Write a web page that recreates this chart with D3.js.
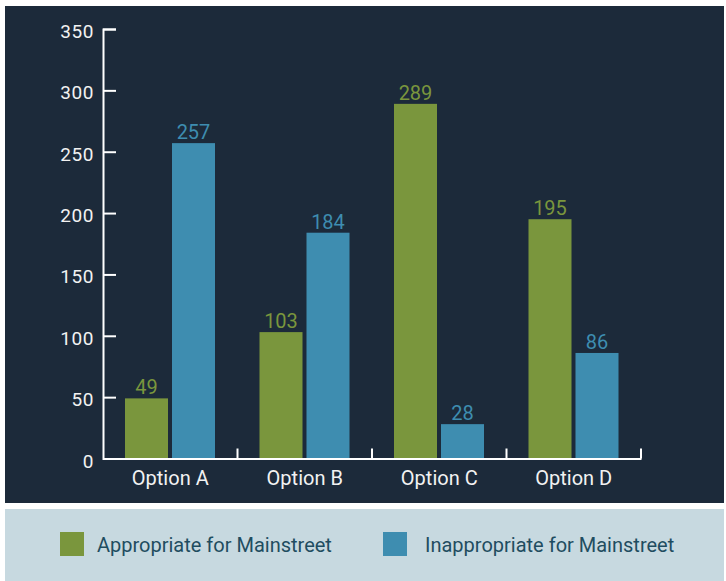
<!DOCTYPE html>
<html>
<head>
<meta charset="utf-8">
<script src="https://cdn.jsdelivr.net/npm/d3@7"></script>
<style>
  html, body { margin: 0; padding: 0; background: #ffffff; }
  svg { display: block; }
  text { font-family: Roboto, "Noto Sans", sans-serif; }
</style>
</head>
<body>
<svg id="chart" width="726" height="581"></svg>
<script>
const categories = ["Option A", "Option B", "Option C", "Option D"];
const seriesNames = ["Appropriate for Mainstreet", "Inappropriate for Mainstreet"];
const appropriate = [49, 103, 289, 195];
const inappropriate = [257, 184, 28, 86];
const yTicks = [0, 50, 100, 150, 200, 250, 300, 350];
const colors = ["#7a963d", "#3e8db0"];

const svg = d3.select("#chart");

// panels
svg.append("rect").attr("x", 5).attr("y", 6).attr("width", 719).attr("height", 497).attr("fill", "#1c2a3a");
svg.append("rect").attr("x", 5).attr("y", 509).attr("width", 719).attr("height", 72).attr("fill", "#c7d9e0");

const y = d3.scaleLinear().domain([0, 350]).range([458.5, 29]);
const x = d3.scaleBand().domain(categories).range([103, 641]).padding(0);
const xInner = d3.scaleBand().domain(seriesNames).range([22, 112]).paddingInner(4 / 47);

const data = categories.map((c, i) => ({ cat: c, values: [appropriate[i], inappropriate[i]] }));

// bars
const groups = svg.append("g").selectAll("g").data(data).join("g")
  .attr("transform", d => `translate(${x(d.cat)},0)`);

groups.selectAll("rect").data(d => d.values.map((v, k) => ({ v, k }))).join("rect")
  .attr("x", d => xInner(seriesNames[d.k]))
  .attr("width", xInner.bandwidth())
  .attr("y", d => y(d.v))
  .attr("height", d => y(0) - y(d.v))
  .attr("fill", d => colors[d.k]);

groups.selectAll("text.val").data(d => d.values.map((v, k) => ({ v, k }))).join("text")
  .attr("class", "val")
  .attr("x", d => xInner(seriesNames[d.k]) + xInner.bandwidth() / 2)
  .attr("y", d => y(d.v) - 4)
  .attr("text-anchor", "middle")
  .attr("font-size", 20)
  .attr("fill", d => colors[d.k])
  .text(d => d.v);

// y axis
const yAxis = svg.append("g").attr("transform", "translate(103,0)")
  .call(d3.axisLeft(y).tickValues(yTicks).tickSize(-13).tickPadding(9));
yAxis.select(".domain").attr("stroke", "#ffffff").attr("stroke-width", 2);
yAxis.selectAll(".tick line").attr("stroke", "#ffffff").attr("stroke-width", 2);
yAxis.selectAll(".tick text")
  .attr("fill", "#f2f2f2")
  .attr("font-size", 19)
  .attr("font-family", "Roboto, sans-serif")
  .attr("letter-spacing", "0.6px")
  .attr("dy", "0.45em");

// x axis
const xAxis = svg.append("g").attr("transform", `translate(0,${y(0)})`)
  .call(d3.axisBottom(x).tickSize(0).tickPadding(12));
xAxis.select(".domain").attr("stroke", "#ffffff").attr("stroke-width", 2);
xAxis.selectAll(".tick text")
  .attr("fill", "#f2f2f2")
  .attr("font-size", 20)
  .attr("font-family", "Roboto, sans-serif")
  .attr("dy", "0.74em");
xAxis.selectAll("line.sep").data(categories).join("line")
  .attr("class", "sep")
  .attr("x1", d => x(d) + x.step())
  .attr("x2", d => x(d) + x.step())
  .attr("y1", 0).attr("y2", -10)
  .attr("stroke", "#ffffff").attr("stroke-width", 2);

// legend
const legendX = [60, 383];
const legendTextDx = [37, 42];
const legend = svg.append("g").selectAll("g").data(seriesNames).join("g")
  .attr("transform", (d, i) => `translate(${legendX[i]},532)`);
legend.append("rect").attr("width", 24).attr("height", 24).attr("fill", (d, i) => colors[i]);
legend.append("text")
  .attr("x", (d, i) => legendTextDx[i]).attr("y", 19.5)
  .attr("font-size", 20)
  .attr("fill", "#1f4d60")
  .text(d => d);
</script>
</body>
</html>
